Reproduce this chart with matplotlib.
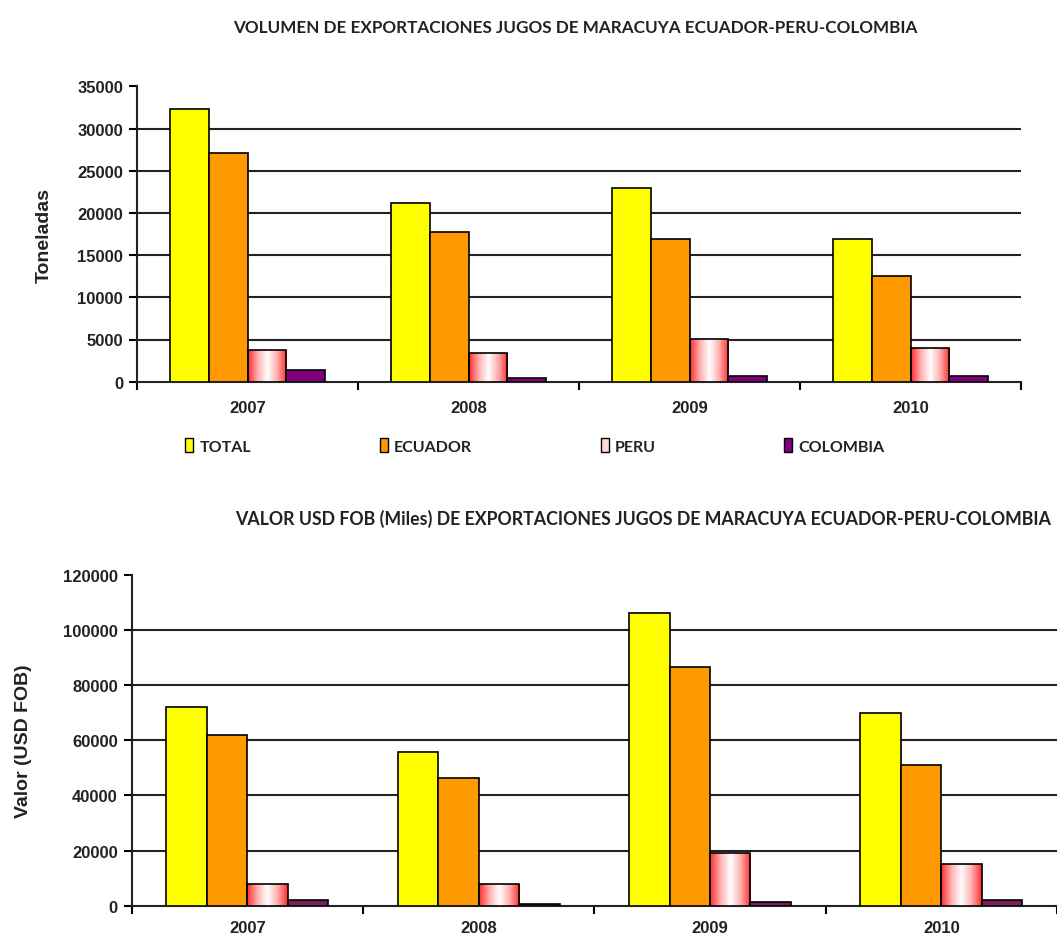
import numpy as np
import matplotlib
matplotlib.use('Agg')
import matplotlib.pyplot as plt
from matplotlib.patches import Patch
from matplotlib.colors import LinearSegmentedColormap

anios = ['2007', '2008', '2009', '2010']
series = ['TOTAL', 'ECUADOR', 'PERU', 'COLOMBIA']

# Toneladas
vol_total = [32300, 21200, 22900, 16900]
vol_ecuador = [27100, 17700, 16900, 12500]
vol_peru = [3700, 3400, 5100, 3950]
vol_colombia = [1350, 400, 700, 700]

# Valor USD FOB (miles)
val_total = [72000, 55600, 106100, 70000]
val_ecuador = [62000, 46200, 86500, 51000]
val_peru = [7900, 7900, 19000, 15100]
val_colombia = [2000, 600, 1300, 2000]

amarillo = '#FFFF00'
naranja = '#FF9900'
morado = '#800080'
morado2 = '#7B1F5C'

grad = LinearSegmentedColormap.from_list('peru', ['#FF3030', '#FFB0B0', '#FFFFFF', '#FFB0B0', '#FF3030'])

fuente_num = 'Liberation Sans'
fuente_tit = 'Lato'


def grafico(ax, datos, ymax, paso, ylabel, col_colombia, pad_x, ancho=0.175):
    x = np.arange(len(anios))
    colores = [amarillo, naranja, None, col_colombia]
    for i, (d, c) in enumerate(zip(datos, colores)):
        pos = x + (i - 1.5) * ancho
        if c is None:
            # barras de PERU con degradado rojo-blanco-rojo
            barras = ax.bar(pos, d, ancho, facecolor='none', edgecolor='black',
                            linewidth=1.2, zorder=3)
            for r in barras:
                bx, by = r.get_x(), r.get_y()
                w, h = r.get_width(), r.get_height()
                img = ax.imshow(np.linspace(0, 1, 64).reshape(1, -1), cmap=grad,
                                extent=[bx, bx + w, by, by + h], aspect='auto',
                                zorder=2.9, interpolation='bilinear')
                img.set_clip_path(r)
        else:
            ax.bar(pos, d, ancho, color=c, edgecolor='black', linewidth=1.2, zorder=3)

    ax.set_xlim(-0.5, len(anios) - 0.5)
    ax.set_ylim(0, ymax)
    ax.set_yticks(np.arange(0, ymax + 1, paso))
    ax.set_xticks(x)
    ax.set_xticklabels(anios)
    ax.set_xticks(np.arange(-0.5, len(anios)), minor=True)
    ax.tick_params(axis='x', which='major', length=0, pad=pad_x)
    ax.tick_params(axis='x', which='minor', length=6, width=1.5, direction='out')
    ax.tick_params(axis='y', length=6, width=1.5, direction='out', pad=4)
    for t in ax.get_xticklabels() + ax.get_yticklabels():
        t.set_fontfamily(fuente_num)
        t.set_fontweight('bold')
        t.set_fontsize(12)
        t.set_color('#222222')

    ax.grid(axis='y', color='#222222', linewidth=1.5)
    ax.set_axisbelow(True)
    ax.get_ygridlines()[-1].set_visible(False)
    ax.get_ygridlines()[0].set_visible(False)
    for s in ['top', 'right']:
        ax.spines[s].set_visible(False)
    for s in ['left', 'bottom']:
        ax.spines[s].set_linewidth(1.5)
        ax.spines[s].set_color('#222222')
    ax.set_ylabel(ylabel, fontfamily=fuente_num, fontweight='bold', fontsize=14,
                  color='#222222')


fig = plt.figure(figsize=(10.57, 9.37), dpi=100)

ax1 = fig.add_axes([137 / 1057, 1 - 382.7 / 937, 884 / 1057, 295.4 / 937])
grafico(ax1, [vol_total, vol_ecuador, vol_peru, vol_colombia], 35000, 5000,
        'Toneladas', morado, 13)
ax1.yaxis.set_label_coords(-0.095, 0.5)
fig.text(575 / 1057, 1 - 28 / 937,
         'VOLUMEN DE EXPORTACIONES JUGOS DE MARACUYA ECUADOR-PERU-COLOMBIA',
         ha='center', va='center', fontfamily=fuente_tit, fontweight='bold',
         fontsize=12.3, color='#222222')

handles = [Patch(facecolor=amarillo, edgecolor='black'),
           Patch(facecolor=naranja, edgecolor='black'),
           Patch(facecolor='#FFD8D8', edgecolor='black'),
           Patch(facecolor=morado, edgecolor='black')]
leg = fig.legend(handles, series, loc='center', bbox_to_anchor=(535 / 1057, 1 - 447 / 937),
                 ncol=4, frameon=False, handlelength=0.5, handleheight=1.0,
                 handletextpad=0.4, columnspacing=8.05,
                 prop={'family': fuente_tit, 'weight': 'bold', 'size': 11.5})
for t in leg.get_texts():
    t.set_color('#222222')

ax2 = fig.add_axes([131.7 / 1057, 1 - 906.7 / 937, (1057 - 131.7) / 1057, 331 / 937])
grafico(ax2, [val_total, val_ecuador, val_peru, val_colombia], 120000, 20000,
        'Valor (USD FOB)', morado2, 10)
ax2.yaxis.set_label_coords(-0.108, 0.5)
fig.text(235 / 1057, 1 - 519 / 937,
         'VALOR USD FOB (Miles) DE EXPORTACIONES JUGOS DE MARACUYA ECUADOR-PERU-COLOMBIA',
         ha='left', va='center', fontfamily=fuente_tit, fontweight='bold',
         fontsize=12.8, color='#222222')

fig.savefig('out.png', dpi=100)
